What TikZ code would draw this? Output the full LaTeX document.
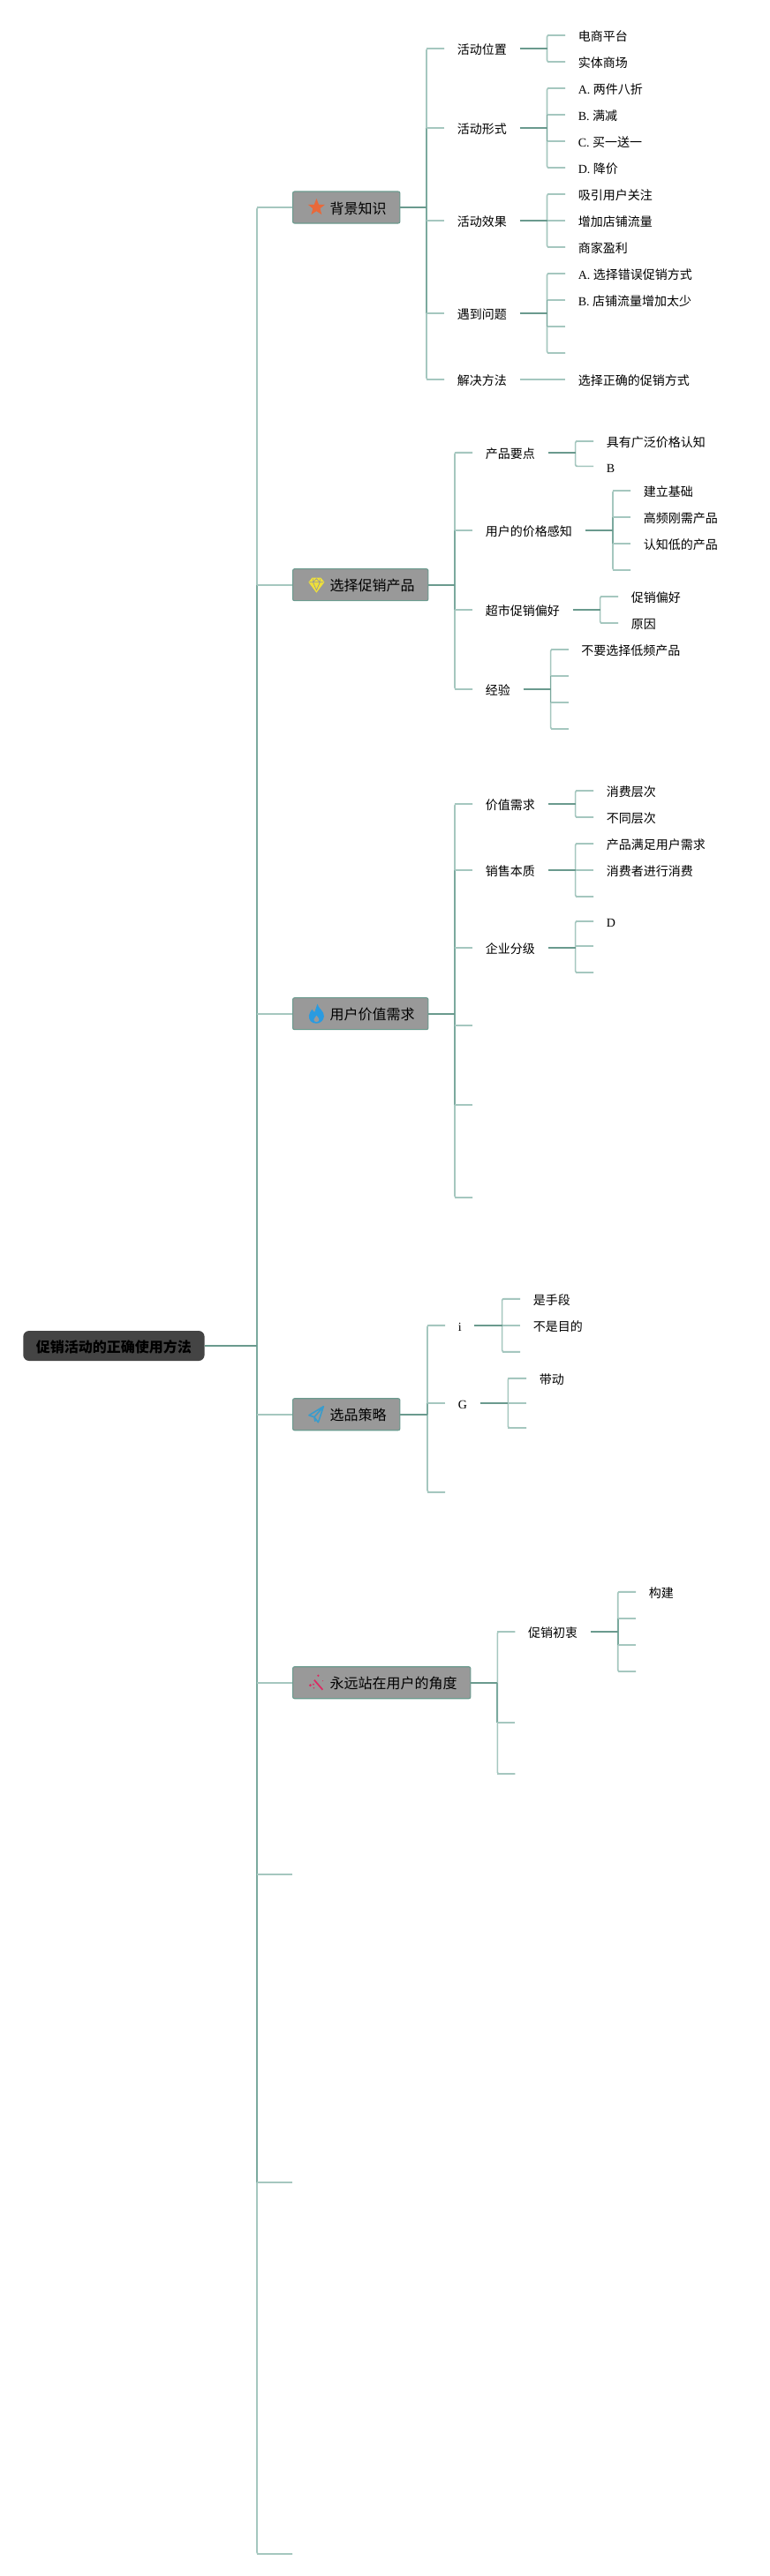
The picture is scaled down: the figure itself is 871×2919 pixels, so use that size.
\documentclass[tikz,border=0pt]{standalone}
\usepackage{fontspec}
\setmainfont{Liberation Serif}
\newfontfamily\cjk{Noto Sans CJK SC}
\newcommand{\zh}[1]{{\cjk #1}}
\definecolor{ltline}{HTML}{A5C7BF}
\definecolor{mdline}{HTML}{7BA99E}
\definecolor{dkline}{HTML}{6A9A8E}
\definecolor{topicfill}{HTML}{999999}
\definecolor{rootfill}{HTML}{444444}
\definecolor{iconstar}{HTML}{E8693A}
\definecolor{icongem}{HTML}{EFE03A}
\definecolor{iconflame}{HTML}{2A9BE0}
\definecolor{iconplane}{HTML}{3A9CCC}
\definecolor{iconwand}{HTML}{DD2A63}
\tikzset{
  ltl/.style={draw=ltline,line width=1.2pt},
  mdl/.style={draw=mdline,line width=1.3pt},
  dkl/.style={draw=dkline,line width=1.5pt},
  leafnode/.style={anchor=west,inner xsep=10.9pt,inner ysep=0pt,text height=10.2pt,text depth=0pt,font=\fontsize{10.5pt}{12pt}\selectfont},
  topicnode/.style={anchor=west,rectangle,rounded corners=1.5pt,draw=dkline,line width=.8pt,fill=topicfill,inner xsep=11.4pt,inner ysep=0pt,minimum height=27pt,text height=10.6pt,text depth=0pt,font=\fontsize{12pt}{14pt}\selectfont},
  rootnode/.style={anchor=west,rectangle,rounded corners=5pt,fill=rootfill,inner xsep=11pt,inner ysep=0pt,minimum height=25.5pt,text height=10.6pt,text depth=0pt,font=\fontsize{12pt}{14pt}\selectfont\bfseries},
}
% #1 parent, #2 spine x, #3 first child, #4 last child, #5 #6 ends of the darker part, #7 all children
\newcommand{\branch}[7]{%
  \coordinate (#1s) at (#2,0 |- #1);
  \draw[ltl,rounded corners=1.5pt] (#3) -- (#1s |- #3) -- (#1s |- #4) -- (#4);
  \draw[mdl] (#1s |- #5) -- (#1s |- #6);
  \foreach \kid in {#7} {\draw[ltl] (\kid) -- (#1s |- \kid);}
  \draw[dkl] (#1) -- (#1s);
}
\newcommand{\leaf}[4]{\node[leafnode] (#1) at (#2,#3) {#4};}
\newcommand{\topic}[3]{\node[topicnode] (#1) at (331,#2) {\hspace*{20.25pt}\zh{#3}};}
\begin{document}
\begin{tikzpicture}[x=.75pt,y=-.75pt]
\useasboundingbox[fill=white] (0,0) rectangle (871,2919);
% root and topics
\node[rootnode] (root) at (26,1525) {\zh{促销活动的正确使用方法}};
\topic{ta}{235}{背景知识}
\topic{tb}{662.7}{选择促销产品}
\topic{tc}{1148.7}{用户价值需求}
\topic{td}{1602.7}{选品策略}
\topic{te}{1906.7}{永远站在用户的角度}
\coordinate (ba) at (331,2124);
\coordinate (bb) at (331,2473);
\coordinate (bc) at (331,2894);
\branch{root}{291}{ta}{bc}{tb}{bb}{ta,tb,tc,td,te,ba,bb,bc}
% topic 1
\leaf{aa}{503}{55}{\zh{活动位置}}
\leaf{ab}{503}{145}{\zh{活动形式}}
\leaf{ac}{503}{250}{\zh{活动效果}}
\leaf{ad}{503}{355}{\zh{遇到问题}}
\leaf{ae}{503}{430}{\zh{解决方法}}
\branch{ta}{483}{aa}{ae}{ab}{ad}{aa,ab,ac,ad,ae}
\leaf{aaa}{640}{40}{\zh{电商平台}}
\leaf{aab}{640}{70}{\zh{实体商场}}
\branch{aa}{619.5}{aaa}{aab}{aaa}{aaa}{aaa,aab}
\leaf{aba}{640}{100}{A. \zh{两件八折}}
\leaf{abb}{640}{130}{B. \zh{满减}}
\leaf{abc}{640}{160}{C. \zh{买一送一}}
\leaf{abd}{640}{190}{D. \zh{降价}}
\branch{ab}{619.5}{aba}{abd}{abb}{abc}{aba,abb,abc,abd}
\leaf{aca}{640}{220}{\zh{吸引用户关注}}
\leaf{acb}{640}{250}{\zh{增加店铺流量}}
\leaf{acc}{640}{280}{\zh{商家盈利}}
\branch{ac}{619.5}{aca}{acc}{aca}{aca}{aca,acb,acc}
\leaf{ada}{640}{310}{A. \zh{选择错误促销方式}}
\leaf{adb}{640}{340}{B. \zh{店铺流量增加太少}}
\coordinate (adc) at (640,370);
\coordinate (add) at (640,400);
\branch{ad}{619.5}{ada}{add}{adb}{adc}{ada,adb,adc,add}
\leaf{aea}{640}{430}{\zh{选择正确的促销方式}}
\draw[ltl] (ae) -- (aea);
% topic 2
\leaf{ba1}{535}{512.7}{\zh{产品要点}}
\leaf{bb1}{535}{601}{\zh{用户的价格感知}}
\leaf{bc1}{535}{691}{\zh{超市促销偏好}}
\leaf{bd1}{535}{781}{\zh{经验}}
\branch{tb}{515}{ba1}{bd1}{bb1}{bc1}{ba1,bb1,bc1,bd1}
\leaf{baa}{672}{500}{\zh{具有广泛价格认知}}
\leaf{bab}{672}{528.3}{B}
\branch{ba1}{651.6}{baa}{bab}{baa}{baa}{baa,bab}
\leaf{bba}{714}{556}{\zh{建立基础}}
\leaf{bbb}{714}{586}{\zh{高频刚需产品}}
\leaf{bbc}{714}{616}{\zh{认知低的产品}}
\coordinate (bbd) at (714,646);
\branch{bb1}{694}{bba}{bbd}{bbb}{bbc}{bba,bbb,bbc,bbd}
\leaf{bca}{700}{676}{\zh{促销偏好}}
\leaf{bcb}{700}{706}{\zh{原因}}
\branch{bc1}{679.6}{bca}{bcb}{bca}{bca}{bca,bcb}
\leaf{bda}{643.6}{736}{\zh{不要选择低频产品}}
\coordinate (bdb) at (643.6,766);
\coordinate (bdc) at (643.6,796);
\coordinate (bdd) at (643.6,826);
\branch{bd1}{623.6}{bda}{bdd}{bdb}{bdc}{bda,bdb,bdc,bdd}
% topic 3
\leaf{ca}{535}{911}{\zh{价值需求}}
\leaf{cb}{535}{986}{\zh{销售本质}}
\leaf{cc}{535}{1074}{\zh{企业分级}}
\coordinate (cd) at (535,1162);
\coordinate (ce) at (535,1252);
\coordinate (cf) at (535,1357);
\branch{tc}{515}{ca}{cf}{cb}{ce}{ca,cb,cc,cd,ce,cf}
\leaf{caa}{672}{896}{\zh{消费层次}}
\leaf{cab}{672}{926}{\zh{不同层次}}
\branch{ca}{651.6}{caa}{cab}{caa}{caa}{caa,cab}
\leaf{cba}{672}{956}{\zh{产品满足用户需求}}
\leaf{cbb}{672}{986}{\zh{消费者进行消费}}
\coordinate (cbc) at (672,1016);
\branch{cb}{651.6}{cba}{cbc}{cba}{cba}{cba,cbb,cbc}
\leaf{cca}{672}{1044}{D}
\coordinate (ccb) at (672,1072);
\coordinate (ccc) at (672,1102);
\branch{cc}{651.6}{cca}{ccc}{cca}{cca}{cca,ccb,ccc}
% topic 4
\leaf{da}{504}{1501.7}{i}
\leaf{db}{504}{1590}{G}
\coordinate (dc) at (504,1690.7);
\branch{td}{484}{da}{dc}{db}{td}{da,db,dc}
\leaf{daa}{589}{1471.7}{\zh{是手段}}
\leaf{dab}{589}{1501.7}{\zh{不是目的}}
\coordinate (dac) at (589,1531.7);
\branch{da}{568.6}{daa}{dac}{daa}{daa}{daa,dab,dac}
\leaf{dba}{596}{1561.7}{\zh{带动}}
\coordinate (dbb) at (596,1590);
\coordinate (dbc) at (596,1618);
\branch{db}{575.3}{dba}{dbc}{dba}{dba}{dba,dbb,dbc}
% topic 5
\leaf{ea}{583.4}{1849}{\zh{促销初衷}}
\coordinate (eb) at (583.4,1952);
\coordinate (ec) at (583.4,2010);
\branch{te}{563.3}{ea}{ec}{te}{eb}{ea,eb,ec}
\leaf{eaa}{720}{1803.7}{\zh{构建}}
\coordinate (eab) at (720,1833.7);
\coordinate (eac) at (720,1864);
\coordinate (ead) at (720,1894);
\branch{ea}{699.7}{eaa}{ead}{eab}{eac}{eaa,eab,eac,ead}
% icons
\begin{scope}[shift={(358.4,235)}]
  \fill[iconstar] (0,-10) -- (2.6,-3.2) -- (9.5,-3.1) -- (4.1,1.2) -- (5.9,8.1) -- (0,4.2) -- (-5.9,8.1) -- (-4.1,1.2) -- (-9.5,-3.1) -- (-2.6,-3.2) -- cycle;
\end{scope}
\begin{scope}[shift={(358.4,662.7)}]
  \fill[icongem] (-5,-8) -- (5,-8) -- (9,-3) -- (0,9) -- (-9,-3) -- cycle;
  \draw[topicfill,line width=.5pt] (-8,-3) -- (8,-3) (-4,-7) -- (-4,-3) -- (0,6) -- (4,-3) -- (4,-7) (-4,-3) -- (0,-7) -- (4,-3);
\end{scope}
\begin{scope}[shift={(358.4,1148.7)}]
  \fill[iconflame] (1,-11) .. controls (2,-6) and (9,-3) .. (8.5,3) .. controls (8,8) and (4,11) .. (0,11) .. controls (-5,11) and (-9,8) .. (-8.5,2) .. controls (-8.3,-1) and (-6,-3) .. (-5,-5) .. controls (-4,-3) and (-3,-2) .. (-2,-2) .. controls (-1,-5) and (0,-8) .. (1,-11) -- cycle;
  \fill[topicfill] (0,2) .. controls (1.5,4) and (3,5) .. (3,7) .. controls (3,10) and (-3,10) .. (-3,7) .. controls (-3,5) and (-1,4) .. (0,2) -- cycle;
\end{scope}
\begin{scope}[shift={(358.4,1602.7)}]
  \draw[iconplane,line width=1.2pt,line join=round] (8,-9) -- (-8.5,1) -- (-2.5,3) -- (2,9) -- cycle (8,-9) -- (-2.5,3) -- (-1.5,8);
\end{scope}
\begin{scope}[shift={(358.4,1906.7)}]
  \draw[iconwand,line width=1.3pt] (-2.5,-3) -- (7,8);
  \fill[iconwand] (-7,3) circle (1.6) (-3,6) circle (.9) (2,-8) circle (1.3) (7,-2) circle (.6) (-3.5,2) circle (1.1);
\end{scope}
\end{tikzpicture}
\end{document}
